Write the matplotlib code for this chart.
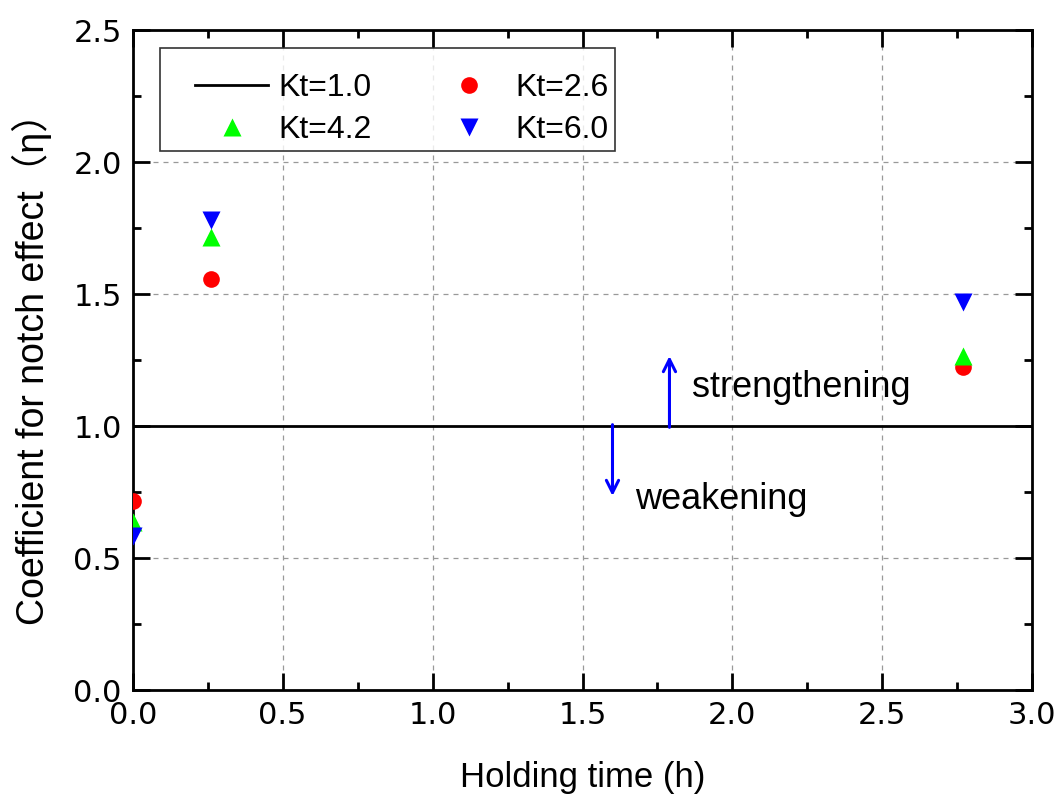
import numpy as np
import matplotlib
matplotlib.use('Agg')
import matplotlib.pyplot as plt
from matplotlib.ticker import MultipleLocator
from matplotlib.lines import Line2D
from matplotlib.legend_handler import HandlerBase

# Données
ref_x = [0.0, 3.0]
ref_y = [1.0, 1.0]

t_holding = [0.0, 0.26, 2.77]
eta_kt26 = [0.715, 1.557, 1.225]
eta_kt42 = [0.635, 1.715, 1.265]
eta_kt60 = [0.585, 1.78, 1.468]

labels = ['Kt=1.0', 'Kt=2.6', 'Kt=4.2', 'Kt=6.0']


# Poignée de légende décalée à droite (comme dans Origin)
class RightHandle(HandlerBase):
    def create_artists(self, legend, orig, xdescent, ydescent, width, height, fontsize, trans):
        x0 = -xdescent + 0.28 * width
        x1 = -xdescent + width
        y = -ydescent + height / 2
        if orig.get_linestyle() not in ('None', '', 'none'):
            art = Line2D([x0, x1], [y, y], color=orig.get_color(), lw=orig.get_linewidth())
        else:
            art = Line2D([(x0 + x1) / 2], [y], ls='none', marker=orig.get_marker(),
                         color=orig.get_color(), ms=orig.get_markersize(), mec='none')
        art.set_transform(trans)
        return [art]


plt.rcParams['font.family'] = ['Liberation Sans', 'Noto Sans CJK SC', 'DejaVu Sans']

fig = plt.figure(figsize=(10.62, 8), dpi=100)
ax = fig.add_axes([0.125, 0.1375, 0.847, 0.825])

h1, = ax.plot(ref_x, ref_y, color='black', lw=2, label=labels[0], zorder=3)
h2, = ax.plot(t_holding, eta_kt26, 'o', color='red', ms=12, mec='none', label=labels[1], zorder=4)
h3, = ax.plot(t_holding, eta_kt42, '^', color='#00ff00', ms=13, mec='none', label=labels[2], zorder=4)
h4, = ax.plot(t_holding, eta_kt60, 'v', color='blue', ms=13, mec='none', label=labels[3], zorder=4)

# Flèches renforcement / affaiblissement
ax.annotate('', xy=(1.79, 1.265), xytext=(1.79, 0.995),
            arrowprops=dict(arrowstyle='->', color='blue', lw=2.2, mutation_scale=22,
                            shrinkA=0, shrinkB=0))
ax.annotate('', xy=(1.6, 0.735), xytext=(1.6, 1.005),
            arrowprops=dict(arrowstyle='->', color='blue', lw=2.2, mutation_scale=22,
                            shrinkA=0, shrinkB=0))
ax.text(1.865, 1.145, 'strengthening', fontsize=26, va='center', ha='left')
ax.text(1.675, 0.72, 'weakening', fontsize=26, va='center', ha='left')

ax.set_xlim(0, 3.0)
ax.set_ylim(0, 2.5)
ax.xaxis.set_major_locator(MultipleLocator(0.5))
ax.xaxis.set_minor_locator(MultipleLocator(0.25))
ax.yaxis.set_major_locator(MultipleLocator(0.5))
ax.yaxis.set_minor_locator(MultipleLocator(0.25))
ax.xaxis.set_major_formatter(matplotlib.ticker.FormatStrFormatter('%.1f'))
ax.yaxis.set_major_formatter(matplotlib.ticker.FormatStrFormatter('%.1f'))

ax.grid(True, which='major', ls=(0, (4, 4)), color='#999999', lw=0.9)
ax.tick_params(which='both', direction='in', top=True, right=True, width=2)
ax.tick_params(which='major', length=12, labelsize=22, pad=8)
ax.tick_params(which='minor', length=6)
for lab in ax.get_xticklabels() + ax.get_yticklabels():
    lab.set_family('DejaVu Sans')
for sp in ax.spines.values():
    sp.set_linewidth(2)

ax.set_xlabel('Holding time (h)', fontsize=25, labelpad=22)
ax.set_ylabel('Coefficient for notch effect（η）', fontsize=27, labelpad=15)

# ordre ligne par ligne comme dans l'original ; titre vide pour l'espace en haut
leg = ax.legend([h1, h3, h2, h4], [labels[0], labels[2], labels[1], labels[3]],
                handler_map={Line2D: RightHandle()},
                ncol=2, loc='upper left', bbox_to_anchor=(0.03, 0.973), fontsize=23,
                title=' ', title_fontsize=6,
                frameon=True, fancybox=False, edgecolor='black', handlelength=3.2,
                handletextpad=0.3, columnspacing=1.0, labelspacing=0.37,
                borderpad=0.2, borderaxespad=0)
leg.get_frame().set_linewidth(1.2)

fig.savefig('out.png', dpi=100)
